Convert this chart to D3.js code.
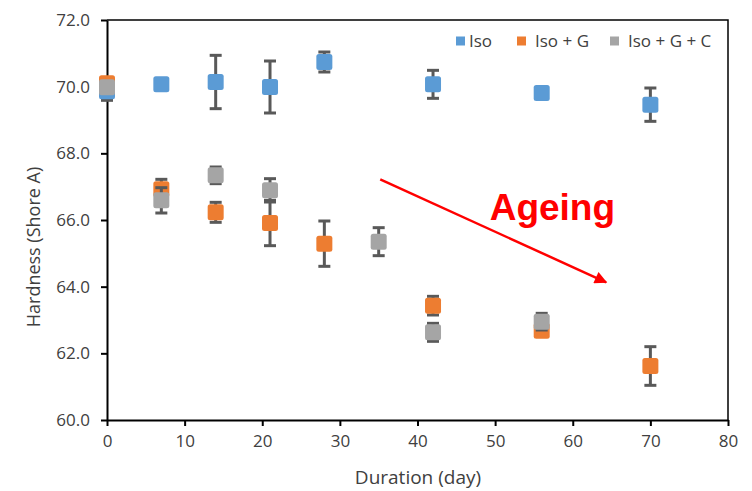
<!DOCTYPE html>
<html>
<head>
<meta charset="utf-8">
<script src="https://cdn.jsdelivr.net/npm/d3@7"></script>
<style>
  html, body { margin: 0; padding: 0; background: #fff; }
  svg { display: block; }
  text { font-family: "Open Sans", "Liberation Sans", sans-serif; }
</style>
</head>
<body>
<div id="chart"></div>
<script>
// ---- Data ----
const isoDays = [0, 7, 14, 21, 28, 42, 56, 70];
const isoValues = [69.86, 70.07, 70.14, 69.99, 70.74, 70.07, 69.81, 69.46];
const isoErrors = [0.27, 0.1, 0.8, 0.78, 0.3, 0.42, 0.12, 0.5];

const isoGDays = [0, 7, 14, 21, 28, 42, 56, 70];
const isoGValues = [70.1, 66.92, 66.23, 65.91, 65.29, 63.43, 62.68, 61.62];
const isoGErrors = [0.1, 0.3, 0.3, 0.68, 0.68, 0.28, 0.15, 0.58];

const isoGCDays = [0, 7, 14, 21, 35, 42, 56];
const isoGCValues = [69.98, 66.59, 67.34, 66.89, 65.35, 62.63, 62.95];
const isoGCErrors = [0.1, 0.38, 0.25, 0.35, 0.42, 0.27, 0.25];

const seriesNames = ["Iso", "Iso + G", "Iso + G + C"];
const seriesColors = ["#5B9BD5", "#ED7D31", "#A5A5A5"];

const xTicks = [0, 10, 20, 30, 40, 50, 60, 70, 80];
const yTicks = [60, 62, 64, 66, 68, 70, 72];

const xTitle = "Duration (day)";
const yTitle = "Hardness (Shore A)";
const annotationText = "Ageing";
// arrow annotation in data units: [day, hardness]
const arrowStart = [35.2, 67.22];
const arrowEnd = [64.3, 64.13];
const annotationAnchor = [49.3, 66.0];

// ---- Layout ----
const W = 752, H = 491;
const margin = { left: 107, right: 24, top: 20, bottom: 71 };
const plotW = W - margin.left - margin.right;
const plotH = H - margin.top - margin.bottom;

const svg = d3.select("#chart").append("svg")
  .attr("width", W).attr("height", H);

const x = d3.scaleLinear().domain([0, 80]).range([margin.left, margin.left + plotW]);
const y = d3.scaleLinear().domain([60, 72]).range([margin.top + plotH, margin.top]);

// plot-area frame (top & right)
svg.append("path")
  .attr("d", `M${x(0)},${y(72)}H${x(80)}V${y(60)}`)
  .attr("fill", "none").attr("stroke", "#000").attr("stroke-width", 1.5);

// axes
const xAxis = svg.append("g")
  .attr("transform", `translate(0,${y(60)})`)
  .call(d3.axisBottom(x).tickValues(xTicks).tickFormat(d3.format("d")).tickSize(6).tickPadding(9).tickSizeOuter(0));
const yAxis = svg.append("g")
  .attr("transform", `translate(${x(0)},0)`)
  .call(d3.axisLeft(y).tickValues(yTicks).tickFormat(d3.format(".1f")).tickSize(6).tickPadding(11).tickSizeOuter(0));

[xAxis, yAxis].forEach(g => {
  g.select(".domain").attr("stroke", "#000").attr("stroke-width", 2);
  g.selectAll(".tick line").attr("stroke", "#000").attr("stroke-width", 2);
  g.selectAll(".tick text").attr("fill", "#404040").style("font-size", "17px")
    .style("font-family", "'Open Sans', sans-serif");
});

// axis titles
svg.append("text")
  .attr("x", 418).attr("y", 484)
  .attr("text-anchor", "middle")
  .attr("fill", "#404040").style("font-size", "19px")
  .text(xTitle);
svg.append("text")
  .attr("transform", `translate(40,247) rotate(-90)`)
  .attr("text-anchor", "middle")
  .attr("fill", "#404040").style("font-size", "18px")
  .text(yTitle);

// ---- Series ----
const series = [
  { days: isoDays, values: isoValues, errors: isoErrors },
  { days: isoGDays, values: isoGValues, errors: isoGErrors },
  { days: isoGCDays, values: isoGCValues, errors: isoGCErrors }
];
const markerSize = 16;
const capW = 12;
const errColor = "#595959";

series.forEach((s, si) => {
  const pts = s.days.map((d, i) => ({ d, v: s.values[i], e: s.errors[i] }));
  const g = svg.append("g");
  const eb = g.append("g").selectAll("g").data(pts).join("g");
  eb.append("line")
    .attr("x1", p => x(p.d)).attr("x2", p => x(p.d))
    .attr("y1", p => y(p.v + p.e)).attr("y2", p => y(p.v - p.e))
    .attr("stroke", errColor).attr("stroke-width", 3);
  [1, -1].forEach(sign => {
    eb.append("line")
      .attr("x1", p => x(p.d) - capW / 2).attr("x2", p => x(p.d) + capW / 2)
      .attr("y1", p => y(p.v + sign * p.e)).attr("y2", p => y(p.v + sign * p.e))
      .attr("stroke", errColor).attr("stroke-width", 3);
  });
  g.append("g").selectAll("rect").data(pts).join("rect")
    .attr("x", p => x(p.d) - markerSize / 2)
    .attr("y", p => y(p.v) - markerSize / 2)
    .attr("width", markerSize).attr("height", markerSize)
    .attr("rx", 2.5).attr("ry", 2.5)
    .attr("fill", seriesColors[si]);
});

// ---- Legend ----
const legendX = [456, 517, 610];
const legendY = 41;
const lg = svg.append("g").selectAll("g").data(seriesNames).join("g")
  .attr("transform", (d, i) => `translate(${legendX[i]},${legendY})`);
lg.append("rect").attr("x", 0).attr("y", -4.5).attr("width", 9).attr("height", 9)
  .attr("fill", (d, i) => seriesColors[i]);
lg.append("text").attr("x", (d, i) => i === 0 ? 13 : 18).attr("y", 0).attr("dy", "0.35em")
  .attr("fill", "#404040").style("font-size", "17px")
  .text(d => d);

// ---- Annotation ----
const defs = svg.append("defs");
defs.append("marker").attr("id", "arrowhead")
  .attr("viewBox", "0 0 10 10").attr("refX", 9).attr("refY", 5)
  .attr("markerWidth", 7).attr("markerHeight", 5).attr("markerUnits", "strokeWidth")
  .attr("orient", "auto")
  .append("path").attr("d", "M0,0L10,5L0,10Z").attr("fill", "#FF0000");

svg.append("line")
  .attr("x1", x(arrowStart[0])).attr("y1", y(arrowStart[1]))
  .attr("x2", x(arrowEnd[0])).attr("y2", y(arrowEnd[1]))
  .attr("stroke", "#FF0000").attr("stroke-width", 2.5)
  .attr("marker-end", "url(#arrowhead)");

svg.append("text")
  .attr("x", x(annotationAnchor[0])).attr("y", y(annotationAnchor[1]) + 0)
  .attr("fill", "#FF0000")
  .style("font-family", "'Liberation Sans', Arial, sans-serif")
  .style("font-weight", "bold").style("font-size", "37px")
  .text(annotationText);
</script>
</body>
</html>
